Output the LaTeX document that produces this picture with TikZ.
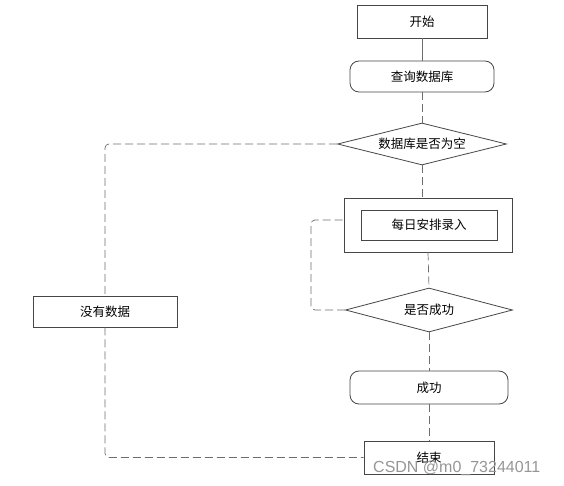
\documentclass[tikz,border=0pt]{standalone}
\usepackage{fontspec}
\usepackage{tikz}
\usetikzlibrary{shapes.geometric, positioning, calc}
\newfontfamily\cjk{Noto Sans CJK SC}
\setmainfont{Liberation Sans}
\definecolor{boxline}{RGB}{70,70,70}
\definecolor{linkgray}{RGB}{110,110,110}
\definecolor{markgray}{RGB}{150,150,150}

\begin{document}
\begin{tikzpicture}[
				x=1pt, y=-1pt,
				box/.style={rectangle, draw=boxline, line width=0.8pt, fill=white,
					align=center, font=\cjk\fontsize{12.5}{14}\selectfont},
				roundbox/.style={box, rounded corners=9pt},
				choice/.style={diamond, aspect=4, draw=boxline, line width=0.8pt, fill=white, inner sep=0pt,
					font=\cjk\fontsize{12.5}{14}\selectfont},
				link/.style={draw=linkgray, line width=0.7pt},
				dashlink/.style={link, dash pattern=on 8pt off 4pt, rounded corners=4pt}
				]
				
				% frame
				\useasboundingbox (0,0) rectangle (564,486);
				
				% Nodes
				\node[box, minimum width=130pt, minimum height=33pt] (start) at (422,21.5) {开始};
				\node[roundbox, minimum width=144pt, minimum height=31pt] (query) at (422,76.5) {查询数据库};
				\node[choice, minimum width=169pt, minimum height=42pt] (isempty) at (422,144) {数据库是否为空};
				\node[box, minimum width=168pt, minimum height=54pt] (entry) at (428,225) {};
				\node[box, minimum width=136pt, minimum height=30pt] (entrytext) at (429,225) {每日安排录入};
				\node[choice, minimum width=167pt, minimum height=44pt] (check) at (429,310) {是否成功};
				\node[roundbox, minimum width=158pt, minimum height=33pt] (success) at (429,387.5) {成功};
				\node[box, minimum width=130pt, minimum height=33pt] (finish) at (429,457.5) {结束};
				\node[box, minimum width=144pt, minimum height=31pt] (nodata) at (105,311.5) {没有数据};
				
				% Connectors
				\draw[link] (start) -- (query);
				\draw[dashlink] (query) -- (isempty);
				\draw[dashlink] (isempty.south) -- (isempty.south |- entry.north);
				\draw[dashlink] (entry.south) -- (check.north);
				\draw[dashlink] (check) -- (success);
				\draw[dashlink] (success) -- (finish);
				\draw[dashlink] (isempty.west) -| (nodata.north);
				\draw[dashlink] (nodata.south) |- (finish.west);
				\draw[dashlink] (check.west) -- (311,310) -- (311,220) -- (entry.west |- 0,220);
				
				% watermark
				\node[text=markgray, font=\fontsize{16}{18}\selectfont, anchor=west, inner sep=0pt] (mark) at (373,468) {CSDN @m0\_73244011};
				
			\end{tikzpicture}
\end{document}
